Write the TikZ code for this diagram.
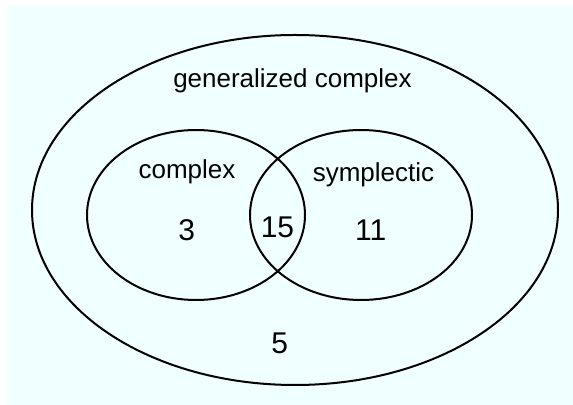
\documentclass[tikz,border=0pt]{standalone}
\usepackage{fontspec}
\setmainfont{Liberation Sans}
\definecolor{bgcyan}{HTML}{F0FFFF}
\begin{document}
\begin{tikzpicture}[x=0.5pt,y=-0.5pt,
  setline/.style={draw=black,line width=1pt},
  lbl/.style={anchor=base,inner sep=0pt,font=\fontsize{13}{15}\selectfont},
  num/.style={anchor=base,inner sep=0pt,font=\fontsize{15}{17}\selectfont}]
\useasboundingbox (0,0) rectangle (573,405);
\fill[white] (0,0) rectangle (573,405);
\fill[bgcyan] (7,6) rectangle (573,405);
\draw[setline] (295,210) ellipse [x radius=263, y radius=175];
\draw[setline] (196,215) ellipse [x radius=109, y radius=85];
\draw[setline] (361,215) ellipse [x radius=111, y radius=85];
\node[lbl] (gc) at (292.5,88) {generalized complex};
\node[lbl] (cx) at (187,179) {complex};
\node[lbl] (sy) at (373.5,182) {symplectic};
\node[num] (n3) at (186.7,241) {3};
\node[num] (n15) at (277.5,238) {15};
\node[num] (n11) at (370.8,241) {11};
\node[num] (n5) at (279.8,354) {5};
\end{tikzpicture}
\end{document}
